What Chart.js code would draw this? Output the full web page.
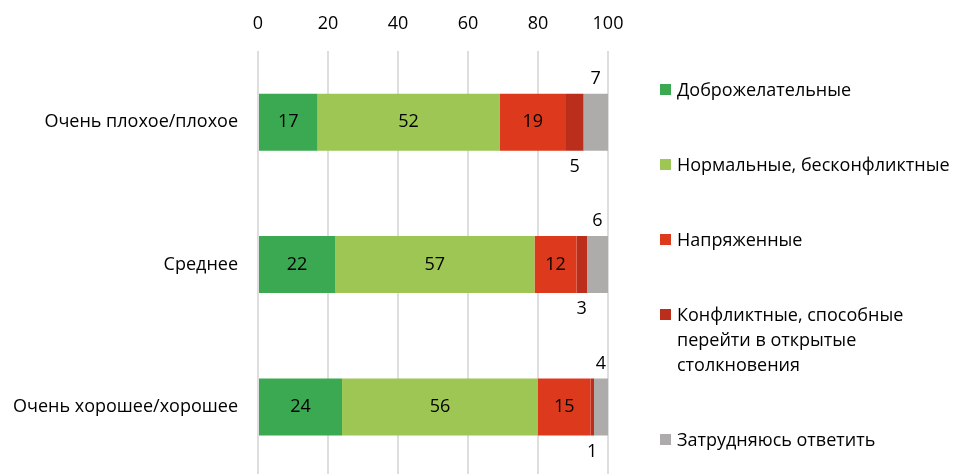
<!DOCTYPE html>
<html>
<head>
<meta charset="utf-8">
<script src="https://cdn.jsdelivr.net/npm/chart.js@4/dist/chart.umd.min.js"></script>
<style>
  html, body { margin: 0; padding: 0; background: #fff; overflow: hidden; }
  .wrap { position: relative; width: 960px; height: 509px; }
  #myChart { position: absolute; left: 0; top: 0; }
  .legend { position: absolute; left: 660px; top: 77px; width: 300px;
            font-family: "Open Sans", sans-serif; font-size: 18px; color: #000; }
  .legendItem { display: flex; align-items: flex-start; margin-bottom: 50px; line-height: 25px; }
  .legendBox { width: 11px; height: 11px; flex: none; margin-top: 7px; margin-right: 6px; }
</style>
</head>
<body>
<div class="wrap">
  <canvas id="myChart" width="960" height="509"></canvas>
  <div class="legend" id="legend"></div>
</div>
<script>
// Categories and series (percent)
const categories = ['Очень плохое/плохое', 'Среднее', 'Очень хорошее/хорошее'];
const seriesNames = [
  'Доброжелательные',
  'Нормальные, бесконфликтные',
  'Напряженные',
  'Конфликтные, способные перейти в открытые столкновения',
  'Затрудняюсь ответить'
];
const friendly = [17, 22, 24];
const normal = [52, 57, 56];
const tense = [19, 12, 15];
const conflict = [5, 3, 1];
const noAnswer = [7, 6, 4];
const xTicks = [0, 20, 40, 60, 80, 100];

const colors = ['#3ba852', '#9dc655', '#dd3a1d', '#bb2e1c', '#aeabab'];
// where each series puts its value label
const labelPlace = ['center', 'center', 'center', 'below', 'above'];

const fontFamily = '"Open Sans", sans-serif';

const data = {
  labels: categories,
  datasets: [friendly, normal, tense, conflict, noAnswer].map((values, i) => ({
    label: seriesNames[i],
    data: values,
    backgroundColor: colors[i],
    borderWidth: 0,
    barPercentage: 0.4,
    categoryPercentage: 1
  }))
};

// draws numbers on / next to the bars
const valueLabels = {
  id: 'valueLabels',
  afterDatasetsDraw(chart) {
    const ctx = chart.ctx;
    ctx.save();
    ctx.font = '18px ' + fontFamily;
    ctx.fillStyle = '#000';
    ctx.textAlign = 'center';
    ctx.textBaseline = 'middle';
    chart.data.datasets.forEach((ds, i) => {
      const meta = chart.getDatasetMeta(i);
      meta.data.forEach((bar, j) => {
        const p = bar.getProps(['x', 'y', 'base', 'height'], true);
        const cx = (p.x + p.base) / 2;
        let cy = p.y;
        if (labelPlace[i] === 'above') cy = p.y - p.height / 2 - 15;
        if (labelPlace[i] === 'below') cy = p.y + p.height / 2 + 16;
        ctx.fillText(String(ds.data[j]), cx, cy);
      });
    });
    ctx.restore();
  }
};

const config = {
  type: 'bar',
  data,
  options: {
    indexAxis: 'y',
    responsive: false,
    animation: false,
    layout: { padding: { left: 0, right: 352, top: 0, bottom: 0 } },
    plugins: {
      legend: { display: false },
      tooltip: { enabled: false }
    },
    scales: {
      x: {
        position: 'top',
        stacked: true,
        min: 0,
        max: 100,
        afterBuildTicks: (scale) => { scale.ticks = xTicks.map(v => ({ value: v })); },
        afterFit: (scale) => { scale.height = 51; },
        grid: { color: '#dedede', lineWidth: 2, drawTicks: false },
        border: { display: false },
        ticks: { padding: 16, color: '#000', font: { family: fontFamily, size: 18 } }
      },
      y: {
        stacked: true,
        afterFit: (scale) => { scale.width = 258; },
        grid: { display: false, drawTicks: false },
        border: { display: false },
        ticks: { padding: 20, color: '#000', font: { family: fontFamily, size: 18 } }
      }
    }
  },
  plugins: [valueLabels]
};

const barChart = new Chart(document.getElementById('myChart'), config);

// Legend on the right
const legend = document.getElementById('legend');
seriesNames.forEach((name, i) => {
  const item = document.createElement('div');
  item.className = 'legendItem';
  const box = document.createElement('span');
  box.className = 'legendBox';
  box.style.background = colors[i];
  const text = document.createElement('span');
  text.textContent = name;
  item.appendChild(box);
  item.appendChild(text);
  legend.appendChild(item);
});
</script>
</body>
</html>
